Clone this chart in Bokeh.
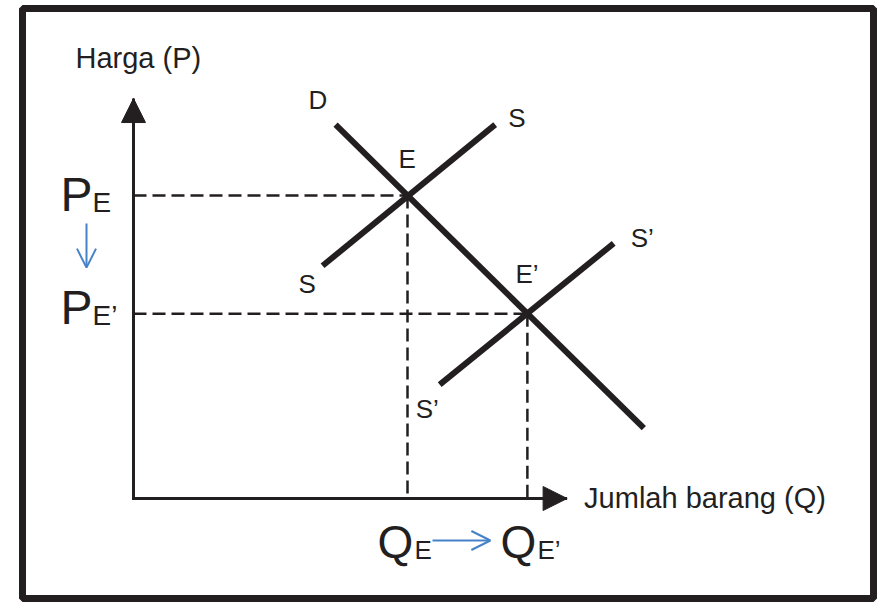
from bokeh.plotting import figure
from bokeh.models import Range1d, Arrow, NormalHead, OpenHead, ColumnDataSource
from bokeh.core.properties import value
from bokeh.embed import file_html
from bokeh.resources import INLINE

# ---------------- data (diagram units: Q on x, P on y) ----------------
q_equilibrium = [4.0, 5.75]        # Q_E, Q_E'
p_equilibrium = [5.0, 3.05]        # P_E, P_E'
demand_q = [2.95, 7.45]
demand_p = [6.17, 1.16]
supply_q = [2.76, 5.28]
supply_p = [3.84, 6.17]
supply2_q = [4.47, 7.01]
supply2_p = [1.88, 4.21]
axis_q_max = 6.33
axis_p_max = 6.60

curve_labels = ["D", "S", "E", "S", "S\u2019", "E\u2019", "S\u2019"]
price_main = ["P", "P"]
price_sub = ["E", "E\u2019"]
qty_main = ["Q", "Q"]
qty_sub = ["E", "E\u2019"]
axis_titles = ["Harga (P)", "Jumlah barang (Q)"]

# ---------------- layout ----------------
UX = 68.5   # px per Q unit
UY = 60.6   # px per P unit
INK = "#231f20"
BLUE = "#4682c8"
FONT = value("Liberation Sans")
LIFT = 0.37  # baseline correction, fraction of font size


def dx(px):
    return px / UX


def dy(px):
    return px / UY


def ty(base, off, size):
    """y position for a text baseline `off` px above `base`, corrected."""
    return base + dy(off + LIFT * size)


W, H = 877, 602
BL, BR, BT, BB = 22, 4, 8, 4
frame_w = W - BL - BR
frame_h = H - BT - BB
ORIGIN = (133, 498)              # origin position in figure px (from top-left)
origin_fx = ORIGIN[0] - BL
origin_fy_from_bottom = (H - BB) - ORIGIN[1]

x0 = -dx(origin_fx)
y0 = -dy(origin_fy_from_bottom)

p = figure(width=W, height=H, x_range=Range1d(x0, x0 + dx(frame_w)),
           y_range=Range1d(y0, y0 + dy(frame_h)),
           output_backend="svg", toolbar_location=None,
           x_axis_location=None, y_axis_location=None,
           min_border_left=BL, min_border_right=BR,
           min_border_top=BT, min_border_bottom=BB)
p.grid.visible = False
p.outline_line_color = INK
p.outline_line_width = 7
p.background_fill_color = "white"
p.border_fill_color = "white"

# dashed guide lines
for q, pr in zip(q_equilibrium, p_equilibrium):
    p.segment(x0=[0, q], y0=[pr, pr], x1=[q, q], y1=[pr, 0],
              line_color=INK, line_width=2.5, line_dash="13 6")

# curves
for xs, ys in [(demand_q, demand_p), (supply_q, supply_p), (supply2_q, supply2_p)]:
    p.line(xs, ys, line_color=INK, line_width=6, line_cap="butt")

# axes
p.line([0, 0, axis_q_max], [axis_p_max, 0, 0], line_color=INK, line_width=3,
       line_join="miter")
p.add_layout(Arrow(end=NormalHead(size=24, fill_color=INK, line_color=INK, line_width=1),
                   x_start=0, y_start=0, x_end=0, y_end=axis_p_max,
                   line_color=INK, line_width=3))
p.add_layout(Arrow(end=NormalHead(size=24, fill_color=INK, line_color=INK, line_width=1),
                   x_start=0, y_start=0, x_end=axis_q_max, y_end=0,
                   line_color=INK, line_width=3))

# blue shift arrows
p.add_layout(Arrow(end=OpenHead(size=19, line_color=BLUE, line_width=2),
                   x_start=dx(-47), y_start=p_equilibrium[0] + dy(-28),
                   x_end=dx(-47), y_end=p_equilibrium[1] + dy(46),
                   line_color=BLUE, line_width=2))
p.add_layout(Arrow(end=OpenHead(size=19, line_color=BLUE, line_width=2),
                   x_start=q_equilibrium[0] + dx(25), y_start=dy(-42),
                   x_end=q_equilibrium[1] + dx(-37), y_end=dy(-42),
                   line_color=BLUE, line_width=2))

# curve labels
LBL = 26
anchors = [
    (demand_q[0], demand_p[0], -27, 15),
    (supply_q[1], supply_p[1], 13, -3),
    (q_equilibrium[0], p_equilibrium[0], -9, 27),
    (supply_q[0], supply_p[0], -24, -28),
    (supply2_q[1], supply2_p[1], 17, -4),
    (q_equilibrium[1], p_equilibrium[1], -12, 30),
    (supply2_q[0], supply2_p[0], -24, -34),
]
src = ColumnDataSource(dict(
    x=[a[0] + dx(a[2]) for a in anchors],
    y=[ty(a[1], a[3], LBL) for a in anchors],
    t=curve_labels))
p.text("x", "y", text="t", source=src, text_font=FONT, text_font_size=f"{LBL}px",
       text_color=INK, text_align="left", text_baseline="alphabetic")

# axis titles
TT = 29
p.text(x=[dx(-58), axis_q_max + dx(17)],
       y=[ty(axis_p_max, 30, TT), ty(0, -10, TT)],
       text=axis_titles, text_font=FONT, text_font_size=f"{TT}px", text_color=INK,
       text_align="left", text_baseline="alphabetic")

# price labels P_E, P_E'
BIGP, SUBP = 48, 28
price_base = [-17, -12]
p.text(x=[dx(-73)] * 2, y=[ty(pr, b, BIGP) for pr, b in zip(p_equilibrium, price_base)],
       text=price_main, text_font=FONT, text_font_size=f"{BIGP}px", text_color=INK,
       text_align="left", text_baseline="alphabetic")
p.text(x=[dx(-41)] * 2, y=[ty(pr, b, SUBP) for pr, b in zip(p_equilibrium, price_base)],
       text=price_sub, text_font=FONT, text_font_size=f"{SUBP}px", text_color=INK,
       text_align="left", text_baseline="alphabetic")

# quantity labels Q_E, Q_E'
BIGQ, SUBQ = 46, 26
q_main_off = [-30, -27]
q_sub_off = [7, 10]
p.text(x=[q + dx(o) for q, o in zip(q_equilibrium, q_main_off)], y=[ty(0, -61, BIGQ)] * 2,
       text=qty_main, text_font=FONT, text_font_size=f"{BIGQ}px", text_color=INK,
       text_align="left", text_baseline="alphabetic")
p.text(x=[q + dx(o) for q, o in zip(q_equilibrium, q_sub_off)], y=[ty(0, -61, SUBQ)] * 2,
       text=qty_sub, text_font=FONT, text_font_size=f"{SUBQ}px", text_color=INK,
       text_align="left", text_baseline="alphabetic")

open("out.html", "w").write(file_html(p, INLINE))
